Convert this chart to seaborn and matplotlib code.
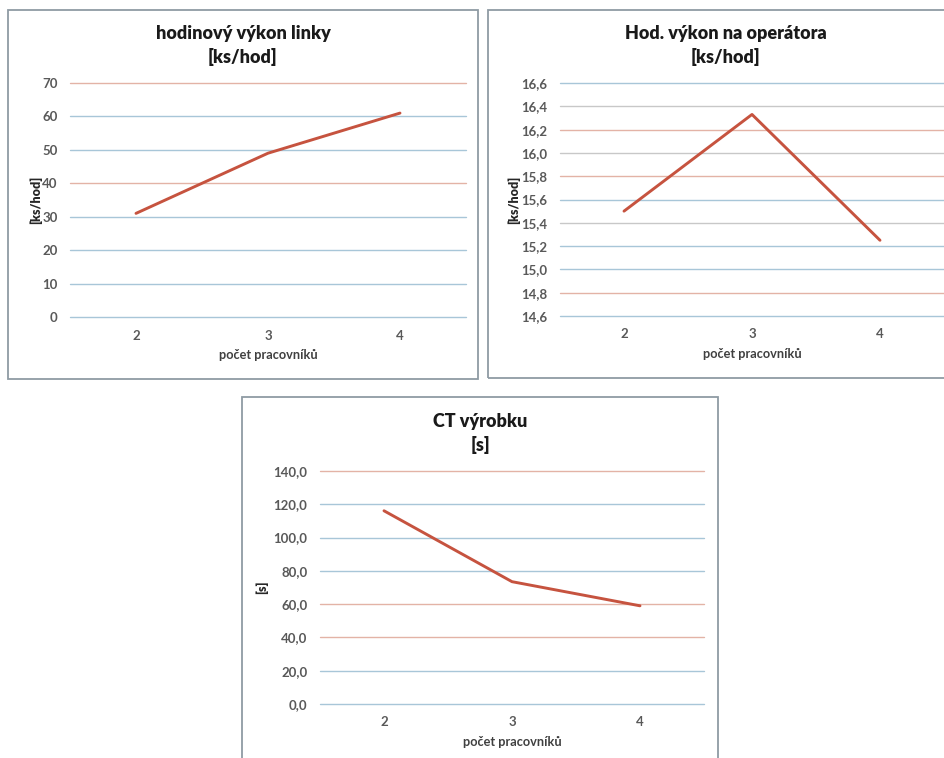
import matplotlib
matplotlib.use("Agg")
import matplotlib.pyplot as plt
from matplotlib.patches import Rectangle
from matplotlib.ticker import FuncFormatter
import seaborn as sns
import pandas as pd

# Data
workers = [2, 3, 4]
line_output = [31.0, 49.0, 61.0]          # ks/hod
output_per_operator = [15.5, 16.33, 15.25]  # ks/hod
cycle_time = [116.1, 73.5, 59.0]        # s

titles = ["hodinový výkon linky\n[ks/hod]", "Hod. výkon na operátora\n[ks/hod]", "CT výrobku\n[s]"]
ylabels = ["[ks/hod]", "[ks/hod]", "[s]"]
xlabel = "počet pracovníků"
yticks1 = [0, 10, 20, 30, 40, 50, 60, 70]
yticks2 = [14.6, 14.8, 15.0, 15.2, 15.4, 15.6, 15.8, 16.0, 16.2, 16.4, 16.6]
yticks3 = [0, 20, 40, 60, 80, 100, 120, 140]

sns.set_theme(style="white")
plt.rcParams["font.family"] = ["Lato", "DejaVu Sans"]

W, H = 944, 758
fig = plt.figure(figsize=(W / 100, H / 100), dpi=100)
fig.patch.set_facecolor("white")

LINE = "#c6533f"
TXT = "#595959"
BLUE = "#a8c6d8"
RED = "#e3b3a6"
GREY = "#c8c8c8"


def fx(px):
    return px / W


def fy(py):
    return 1 - py / H


def box(x0, y0, x1, y1):
    fig.patches.append(Rectangle((fx(x0), fy(y1)), fx(x1 - x0), (y1 - y0) / H,
                                 transform=fig.transFigure, fill=False,
                                 edgecolor="#8f9ba4", linewidth=1.3, zorder=0))


def panel(left, right, top, bottom, values, ticks, fmt, grid_colors, title, tcx, ty, ylabel, ylx):
    ax = fig.add_axes([fx(left), fy(bottom), fx(right - left), (bottom - top) / H])
    df = pd.DataFrame({"x": workers, "y": values})
    sns.lineplot(data=df, x="x", y="y", ax=ax, color=LINE, linewidth=2.1, zorder=3)
    ax.set_xlim(1.5, 4.5)
    ax.set_ylim(ticks[0], ticks[-1])
    ax.set_xticks(workers)
    ax.set_yticks(ticks)
    ax.yaxis.set_major_formatter(FuncFormatter(fmt))
    for t, c in zip(ticks, grid_colors):
        ax.axhline(t, color=c, linewidth=1.0, clip_on=False, zorder=1)
    for s in ax.spines.values():
        s.set_visible(False)
    ax.set_facecolor("none")
    ax.tick_params(axis="both", length=0, labelsize=9.5, labelcolor=TXT)
    ax.tick_params(axis="x", pad=9)
    ax.tick_params(axis="y", pad=9)
    for lab in ax.get_xticklabels() + ax.get_yticklabels():
        lab.set_fontweight("bold")
    ax.set_xlabel("")
    ax.set_ylabel("")
    fig.text(fx((left + right) / 2), fy(bottom + 38), xlabel, ha="center", va="center",
             fontsize=9.2, fontweight="bold", color="#404040")
    fig.text(fx(tcx), fy(ty), title, ha="center", va="center", fontsize=13,
             fontweight="heavy", color="#1a1a1a", linespacing=1.4)
    fig.text(fx(ylx), fy((top + bottom) / 2), ylabel, ha="center", va="center",
             rotation=90, fontsize=9, fontweight="heavy", color="#262626")
    return ax


def fmt_int(v, pos):
    return f"{v:.0f}"


def fmt_dec(v, pos):
    return f"{v:.1f}".replace(".", ",")


# Chart frames
box(8, 10, 478, 379)
box(488, 10, 960, 378)
box(242, 397, 718, 770)

g1 = [BLUE, BLUE, BLUE, BLUE, RED, BLUE, BLUE, RED]
g2 = [BLUE, RED, BLUE, BLUE, GREY, BLUE, RED, GREY, RED, GREY, BLUE]
g3 = [BLUE, BLUE, RED, RED, BLUE, BLUE, BLUE, RED]

panel(70, 466, 83, 317, line_output, yticks1, fmt_int, g1, titles[0], 243, 45, ylabels[0], 36)
panel(560, 944, 83, 316, output_per_operator, yticks2, fmt_dec, g2, titles[1], 726, 45, ylabels[1], 514)
panel(320, 704, 471, 704, cycle_time, yticks3, fmt_dec, g3, titles[2], 480, 433, ylabels[2], 262)

fig.savefig("out.png", dpi=100, facecolor="white")
